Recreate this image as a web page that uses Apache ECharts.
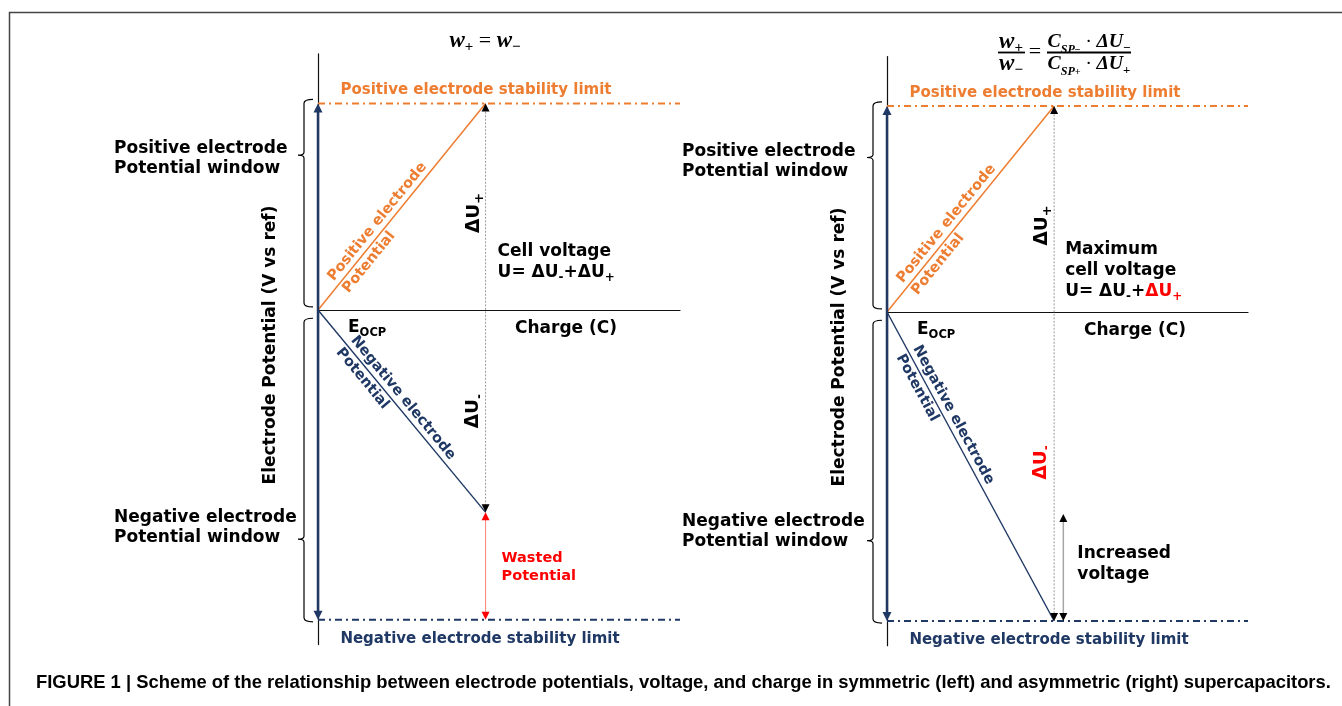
<!DOCTYPE html>
<html>
<head>
<meta charset="utf-8">
<script src="https://cdn.jsdelivr.net/npm/echarts@6/dist/echarts.min.js"></script>
<style>
  html, body { margin: 0; padding: 0; background: #fff; }
  #chart { width: 1342px; height: 706px; }
</style>
</head>
<body>
<div id="chart"></div>
<script>
// Potentials are expressed in units of the positive electrode window:
// open-circuit potential at 0, positive stability limit at 1.
const E_OCP = 0;
const POSITIVE_LIMIT = 1.0;
const NEGATIVE_LIMIT = -1.5;
const CHARGE_MAX = 2.16;          // end of the charge axis
const CHARGE_AT_LIMIT = 1.0;      // charge when the positive electrode reaches its limit

// Symmetric cell (w+ = w-): the negative electrode stops short of its limit
const symNegativeEnd = -0.98;
const symPositive = [[0, E_OCP], [CHARGE_AT_LIMIT, POSITIVE_LIMIT]];
const symNegative = [[0, E_OCP], [CHARGE_AT_LIMIT, symNegativeEnd]];

// Asymmetric cell: mass ratio chosen so both electrodes reach their limits
const asymPositive = [[0, E_OCP], [CHARGE_AT_LIMIT, POSITIVE_LIMIT]];
const asymNegative = [[0, E_OCP], [CHARGE_AT_LIMIT, NEGATIVE_LIMIT]];
const increasedVoltageCharge = 1.055;

// Potential-window brackets: [top, bottom, tip]
const positiveWindow = [1.02, 0.015, 0.75];
const negativeWindow = [-0.04, -1.51, -1.11];

// Arrows: [x1, y1, x2, y2, style]
const symArrows = [
  [0, POSITIVE_LIMIT, 0, NEGATIVE_LIMIT, 0],
  [CHARGE_AT_LIMIT, POSITIVE_LIMIT, CHARGE_AT_LIMIT, symNegativeEnd, 1],
  [CHARGE_AT_LIMIT, symNegativeEnd, CHARGE_AT_LIMIT, NEGATIVE_LIMIT, 2]
];
const asymArrows = [
  [0, POSITIVE_LIMIT, 0, NEGATIVE_LIMIT, 0],
  [CHARGE_AT_LIMIT, POSITIVE_LIMIT, CHARGE_AT_LIMIT, NEGATIVE_LIMIT, 1],
  [increasedVoltageCharge, symNegativeEnd, increasedVoltageCharge, NEGATIVE_LIMIT, 3]
];

const CAPTION = 'FIGURE 1 | Scheme of the relationship between electrode potentials, voltage, and charge in symmetric (left) and asymmetric (right) supercapacitors.';

const SANS = '"DejaVu Sans", Verdana, sans-serif';
const SERIF = '"Liberation Serif", "DejaVu Serif", serif';
const ORANGE = '#ED7D31';
const NAVY = '#1F3864';
const RED = '#FF0000';

const Y_MIN = -1.62, Y_MAX = 1.24;
const panels = [
  { left: 318, width: 362, zeroY: 310, scale: 206.5 },
  { left: 887, width: 361, zeroY: 312, scale: 206 }
];

const ARROW_STYLES = [
  { line: NAVY, head: NAVY, width: 2.5, dash: null, hl: 9, hw: 4.5 },
  { line: '#9a9a9a', head: '#000', width: 1, dash: [2, 1.5], hl: 8, hw: 4 },
  { line: '#ff8080', head: RED, width: 1, dash: null, hl: 8, hw: 4 },
  { line: '#a6a6a6', head: '#000', width: 1.5, dash: null, hl: 8, hw: 4 }
];

function renderArrow(params, api) {
  const a = api.coord([api.value(0), api.value(1)]);
  const b = api.coord([api.value(2), api.value(3)]);
  const s = ARROW_STYLES[api.value(4)];
  const dx = b[0] - a[0], dy = b[1] - a[1];
  const len = Math.hypot(dx, dy);
  const ux = dx / len, uy = dy / len;
  const nx = -uy, ny = ux;
  const head = (tip, dx1, dy1) => ({
    type: 'polygon',
    shape: { points: [
      [tip[0], tip[1]],
      [tip[0] - dx1 * s.hl + nx * s.hw, tip[1] - dy1 * s.hl + ny * s.hw],
      [tip[0] - dx1 * s.hl - nx * s.hw, tip[1] - dy1 * s.hl - ny * s.hw]
    ] },
    style: { fill: s.head }
  });
  return {
    type: 'group',
    children: [
      {
        type: 'line',
        shape: { x1: a[0] + ux * s.hl * 0.6, y1: a[1] + uy * s.hl * 0.6,
                 x2: b[0] - ux * s.hl * 0.6, y2: b[1] - uy * s.hl * 0.6 },
        style: { stroke: s.line, lineWidth: s.width, lineDash: s.dash, fill: null }
      },
      head(a, -ux, -uy),
      head(b, ux, uy)
    ]
  };
}

function renderBracket(params, api) {
  const top = api.coord([0, api.value(0)]);
  const bot = api.coord([0, api.value(1)]);
  const tip = api.coord([0, api.value(2)]);
  const x0 = top[0];
  const xv = x0 - 14, xh = x0 - 5, xt = x0 - 20;
  const t = top[1], b = bot[1], m = tip[1];
  const d = [
    'M', xh, t, 'Q', xv, t, xv, t + 4,
    'L', xv, m - 3, 'Q', xv, m, xt, m,
    'M', xt, m, 'Q', xv, m, xv, m + 3,
    'L', xv, b - 4, 'Q', xv, b, xh, b
  ].join(' ');
  return {
    type: 'path',
    shape: { pathData: d },
    style: { stroke: '#000', lineWidth: 1.2, fill: 'none' }
  };
}

function limitLine(i, value, color) {
  return {
    type: 'line', xAxisIndex: i, yAxisIndex: i, silent: true, showSymbol: false, z: 2,
    data: [[0, value], [CHARGE_MAX, value]],
    lineStyle: { color, width: 2, type: [7, 4, 2, 4], cap: 'butt' }
  };
}
function potentialLine(i, data, color, width) {
  return {
    type: 'line', xAxisIndex: i, yAxisIndex: i, silent: true, showSymbol: false, z: 3,
    data, lineStyle: { color, width }
  };
}
function panelSeries(i, pos, neg, arrows) {
  return [
    limitLine(i, POSITIVE_LIMIT, ORANGE),
    limitLine(i, NEGATIVE_LIMIT, NAVY),
    potentialLine(i, pos, ORANGE, 1.5),
    potentialLine(i, neg, NAVY, 1.4),
    { type: 'custom', xAxisIndex: i, yAxisIndex: i, silent: true, clip: false, z: 3,
      renderItem: renderBracket, data: [positiveWindow, negativeWindow] },
    { type: 'custom', xAxisIndex: i, yAxisIndex: i, silent: true, clip: false, z: 4,
      renderItem: renderArrow, data: arrows }
  ];
}

const axisLineStyle = { show: true, onZero: true, lineStyle: { color: '#111', width: 1.2 } };

const chart = echarts.init(document.getElementById('chart'), null, { renderer: 'canvas' });
chart.setOption({
  animation: false,
  grid: panels.map(p => ({
    left: p.left, width: p.width,
    top: p.zeroY - Y_MAX * p.scale,
    height: (Y_MAX - Y_MIN) * p.scale,
    containLabel: false
  })),
  xAxis: panels.map((p, i) => ({
    gridIndex: i, type: 'value', min: 0, max: CHARGE_MAX,
    axisLine: axisLineStyle, axisTick: { show: false }, axisLabel: { show: false }, splitLine: { show: false }
  })),
  yAxis: panels.map((p, i) => ({
    gridIndex: i, type: 'value', min: Y_MIN, max: Y_MAX,
    axisLine: axisLineStyle, axisTick: { show: false }, axisLabel: { show: false }, splitLine: { show: false }
  })),
  series: [
    ...panelSeries(0, symPositive, symNegative, symArrows),
    ...panelSeries(1, asymPositive, asymNegative, asymArrows)
  ]
});

// ---- text layer ----
const px = (g, x, y) => chart.convertToPixel({ gridIndex: g }, [x, y]);

function text(x, y, str, o = {}) {
  const style = {
    text: str, fill: o.color || '#000', fontFamily: o.family || SANS,
    fontWeight: o.weight || 'bold', fontStyle: o.style || 'normal', fontSize: o.size || 17,
    align: o.align || 'left', verticalAlign: o.valign || 'middle'
  };
  if (o.lineHeight) style.lineHeight = o.lineHeight;
  if (o.rich) style.rich = o.rich;
  return { type: 'text', x, y, rotation: o.rotation || 0, silent: true, z: 10, style };
}

function subRich(size, subSize, color) {
  return {
    m: { fontFamily: SANS, fontWeight: 'bold', fontSize: size, lineHeight: Math.round(size * 1.3), fill: color },
    s: { fontFamily: SANS, fontWeight: 'bold', fontSize: subSize, lineHeight: subSize, verticalAlign: 'bottom', fill: color },
    r: { fontFamily: SANS, fontWeight: 'bold', fontSize: size, lineHeight: Math.round(size * 1.3), fill: RED },
    rs: { fontFamily: SANS, fontWeight: 'bold', fontSize: subSize, lineHeight: subSize, verticalAlign: 'bottom', fill: RED }
  };
}

function lineLabel(g, pts, str, color, along) {
  const a = px(g, pts[0][0], pts[0][1]);
  const b = px(g, pts[1][0], pts[1][1]);
  const dx = b[0] - a[0], dy = b[1] - a[1];
  const len = Math.hypot(dx, dy);
  return text(a[0] + dx / len * along, a[1] + dy / len * along, str, {
    color, size: 14.5, lineHeight: 19, rotation: Math.atan2(-dy, dx)
  });
}

function mathRich(k) {
  return {
    v: { fontFamily: SERIF, fontStyle: 'italic', fontWeight: 'bold', fontSize: 23 * k, lineHeight: 27, fill: '#000' },
    s: { fontFamily: SERIF, fontWeight: 'bold', fontSize: 15 * k, lineHeight: 14, verticalAlign: 'bottom', fill: '#000' },
    ss: { fontFamily: SERIF, fontWeight: 'bold', fontSize: 12 * k, lineHeight: 8, verticalAlign: 'bottom', fill: '#000' },
    si: { fontFamily: SERIF, fontStyle: 'italic', fontWeight: 'bold', fontSize: 14 * k, lineHeight: 14, verticalAlign: 'bottom', fill: '#000' },
    e: { fontFamily: SERIF, fontSize: 22 * k, lineHeight: 27, fill: '#000' }
  };
}

function buildGraphic() {
  const g = [];
  const big = mathRich(1), frac = mathRich(0.86);
  // frame
  g.push({ type: 'polyline', silent: true, shape: { points: [[9.5, 706], [9.5, 12.5], [1342, 12.5]] },
           style: { stroke: '#444', lineWidth: 1.5, fill: 'none' } });

  // mass-balance formulas
  g.push(text(485, 41, '{v|w}{s|+}{e| = }{v|w}{s|−}', { align: 'center', rich: big }));
  g.push(text(1011, 42, '{v|w}{s|+}', { align: 'center', rich: big }));
  g.push(text(1011, 64, '{v|w}{s|−}', { align: 'center', rich: big }));
  g.push({ type: 'line', silent: true, shape: { x1: 998, y1: 52.5, x2: 1025, y2: 52.5 }, style: { stroke: '#000', lineWidth: 1.8 } });
  g.push(text(1035, 52, '{e|=}', { align: 'center', rich: big }));
  g.push(text(1089, 42, '{v|C}{si|SP}{ss|−}{e| · }{v|ΔU}{s|−}', { align: 'center', rich: frac }));
  g.push(text(1089, 64, '{v|C}{si|SP}{ss|+}{e| · }{v|ΔU}{s|+}', { align: 'center', rich: frac }));
  g.push({ type: 'line', silent: true, shape: { x1: 1047, y1: 52.5, x2: 1131, y2: 52.5 }, style: { stroke: '#000', lineWidth: 1.8 } });

  const sideX = [114, 682];
  const sideShift = [0, 3];
  const lines = [[symPositive, symNegative], [asymPositive, asymNegative]];
  [0, 1].forEach(i => {
    const o = px(i, 0, E_OCP);
    const pl = px(i, 0, POSITIVE_LIMIT);
    const nl = px(i, 0, NEGATIVE_LIMIT);

    g.push(text(sideX[i], 159 + sideShift[i], 'Positive electrode\nPotential window', { lineHeight: 20 }));
    g.push(text(sideX[i], 528 + sideShift[i] + i, 'Negative electrode\nPotential window', { lineHeight: 20 }));

    g.push(text(o[0] - 47, o[1] + 35, 'Electrode Potential (V vs ref)', { rotation: Math.PI / 2, align: 'center' }));

    g.push(text(o[0] + 158, pl[1] - 13, 'Positive electrode stability limit', { color: ORANGE, size: 15, align: 'center' }));
    g.push(text(o[0] + 162, nl[1] + 19, 'Negative electrode stability limit', { color: NAVY, size: 15, align: 'center' }));

    g.push(text(o[0] + 30, o[1] + 18, '{m|E}{s|OCP}', { rich: subRich(17, 11.5, '#000') }));
    g.push(text(o[0] + 248, o[1] + 19, 'Charge (C)', { align: 'center' }));

    g.push(lineLabel(i, lines[i][0], 'Positive electrode\nPotential', ORANGE, 32));
    g.push(lineLabel(i, lines[i][1], 'Negative electrode\nPotential', NAVY, 44));
  });

  // symmetric panel annotations
  let p = px(0, CHARGE_AT_LIMIT, 0.47);
  g.push(text(p[0] - 11, p[1], '{m|ΔU}{s|+}', { rotation: Math.PI / 2, align: 'center', rich: subRich(18.5, 13, '#000') }));
  p = px(0, CHARGE_AT_LIMIT, -0.49);
  g.push(text(p[0] - 12, p[1], '{m|ΔU}{s|-}', { rotation: Math.PI / 2, align: 'center', rich: subRich(18.5, 12, '#000') }));
  p = px(0, CHARGE_AT_LIMIT, 0);
  g.push(text(p[0] + 12, p[1] - 58, 'Cell voltage'));
  g.push(text(p[0] + 12, p[1] - 37, '{m|U= ΔU}{s|-}{m|+ΔU}{s|+}', { rich: subRich(17, 12, '#000') }));
  p = px(0, CHARGE_AT_LIMIT, NEGATIVE_LIMIT);
  g.push(text(p[0] + 16, p[1] - 53, 'Wasted\nPotential', { color: RED, size: 14.5, lineHeight: 18 }));

  // asymmetric panel annotations
  p = px(1, CHARGE_AT_LIMIT, 0.42);
  g.push(text(p[0] - 12, p[1], '{m|ΔU}{s|+}', { rotation: Math.PI / 2, align: 'center', rich: subRich(18.5, 13, '#000') }));
  p = px(1, CHARGE_AT_LIMIT, -0.73);
  g.push(text(p[0] - 13, p[1], '{m|ΔU}{s|-}', { rotation: Math.PI / 2, align: 'center', rich: subRich(18.5, 12, RED) }));
  p = px(1, CHARGE_AT_LIMIT, 0);
  g.push(text(p[0] + 11, p[1] - 62, 'Maximum'));
  g.push(text(p[0] + 11, p[1] - 41, 'cell voltage'));
  g.push(text(p[0] + 11, p[1] - 20, '{m|U= ΔU}{s|-}{m|+}{r|ΔU}{rs|+}', { rich: subRich(17, 12, '#000') }));
  p = px(1, increasedVoltageCharge, NEGATIVE_LIMIT);
  g.push(text(p[0] + 14, p[1] - 57, 'Increased\nvoltage', { lineHeight: 21 }));

  // caption
  g.push(text(36, 683, CAPTION, { family: '"Liberation Sans", Arial, sans-serif', size: 18.4 }));
  return g;
}

chart.setOption({ graphic: buildGraphic() });
</script>
</body>
</html>
